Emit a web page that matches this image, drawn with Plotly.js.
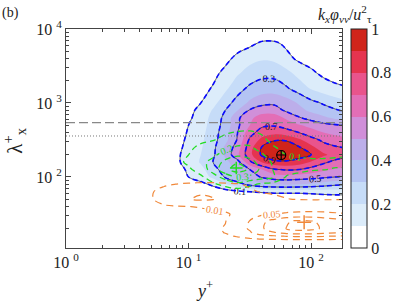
<!DOCTYPE html>
<html><head><meta charset="utf-8">
<script src="https://cdn.plot.ly/plotly-3.0.1.min.js"></script>
<style>html,body{margin:0;padding:0;background:#fff;}#chart{width:399px;height:301px;}</style>
</head><body><div id="chart"></div>
<script>
// ---- grid of the main spectrum (log10 y+ columns, log10 lambda_x+ rows) ----
const mainLogYplus = [0.8,0.9,1.0,1.1,1.2,1.3,1.4,1.5,1.6,1.7,1.8,1.9,2.0,2.1,2.2,2.3];
const mainLogLambda = [1.6,1.7,1.8,1.9,2.0,2.1,2.2,2.3,2.4,2.5,2.6,2.7,2.8,2.9,3.0,3.2,3.4,3.6,3.8,4.0];
const phiVV = [
 [0,0,0,0,0,0,0,0,0,0,0,0,0,0,0,0],
 [0,0,0,0,0,0.01,0.01,0.02,0.02,0.02,0.02,0.02,0.02,0.03,0.03,0.03],
 [0,0,0.01,0.02,0.04,0.06,0.08,0.10,0.11,0.12,0.12,0.12,0.13,0.14,0.15,0.15],
 [0,0.01,0.03,0.07,0.12,0.19,0.26,0.33,0.38,0.40,0.41,0.40,0.38,0.35,0.32,0.31],
 [0.01,0.03,0.10,0.15,0.22,0.31,0.38,0.45,0.51,0.55,0.56,0.55,0.54,0.52,0.50,0.49],
 [0.01,0.05,0.12,0.17,0.26,0.35,0.43,0.50,0.60,0.69,0.71,0.70,0.66,0.62,0.59,0.57],
 [0.02,0.08,0.14,0.21,0.30,0.37,0.46,0.68,0.81,0.87,0.88,0.85,0.79,0.72,0.67,0.65],
 [0.02,0.08,0.14,0.20,0.28,0.42,0.58,0.77,0.92,0.99,0.99,0.95,0.90,0.82,0.76,0.73],
 [0.01,0.07,0.13,0.19,0.27,0.42,0.55,0.76,0.91,0.97,0.96,0.91,0.83,0.74,0.71,0.69],
 [0.01,0.06,0.12,0.18,0.26,0.37,0.51,0.72,0.83,0.89,0.89,0.82,0.74,0.68,0.65,0.63],
 [0.01,0.05,0.11,0.17,0.25,0.36,0.50,0.66,0.75,0.77,0.74,0.70,0.64,0.60,0.57,0.55],
 [0.01,0.05,0.10,0.16,0.24,0.34,0.48,0.60,0.68,0.69,0.66,0.61,0.57,0.53,0.51,0.49],
 [0.01,0.04,0.08,0.15,0.23,0.33,0.48,0.58,0.64,0.65,0.58,0.51,0.46,0.42,0.38,0.35],
 [0.01,0.03,0.07,0.13,0.21,0.30,0.40,0.51,0.56,0.55,0.48,0.43,0.38,0.34,0.31,0.28],
 [0.01,0.02,0.05,0.10,0.17,0.26,0.34,0.42,0.47,0.48,0.45,0.39,0.33,0.29,0.25,0.22],
 [0,0.01,0.03,0.06,0.11,0.18,0.26,0.32,0.35,0.35,0.31,0.25,0.19,0.15,0.12,0.105],
 [0,0,0.02,0.04,0.07,0.13,0.19,0.24,0.27,0.27,0.23,0.17,0.12,0.08,0.06,0.05],
 [0,0,0.01,0.02,0.04,0.07,0.13,0.17,0.19,0.18,0.13,0.08,0.06,0.04,0.03,0.02],
 [0,0,0,0.01,0.02,0.03,0.05,0.08,0.12,0.12,0.08,0.05,0.03,0.02,0.01,0.01],
 [0,0,0,0,0,0,0,0,0,0,0,0,0,0,0,0]
];

// ---- green field ----
const greenLogYplus = [0.8,0.9,1.0,1.1,1.2,1.3,1.4,1.5,1.6,1.7,1.8,1.9,2.0,2.1,2.2,2.3];
const greenLogLambda = [1.7,1.8,1.9,2.0,2.1,2.2,2.3,2.4,2.5,2.6,2.7,2.8];
const greenField = [
 [0,0,0,0,0,0,0,0,0,0,0,0,0,0,0,0],
 [0,0,0,0.005,0.015,0.03,0.04,0.035,0.025,0.015,0.01,0.005,0,0,0,0],
 [0,0,0.01,0.03,0.08,0.13,0.17,0.12,0.08,0.06,0.04,0.03,0.02,0.02,0.02,0.02],
 [0,0.01,0.04,0.08,0.16,0.24,0.30,0.28,0.24,0.20,0.09,0.06,0.05,0.05,0.05,0.05],
 [0.01,0.04,0.08,0.15,0.24,0.37,0.45,0.38,0.27,0.19,0.15,0.13,0.11,0.102,0.095,0.095],
 [0.03,0.07,0.12,0.17,0.23,0.33,0.39,0.34,0.25,0.18,0.14,0.12,0.115,0.115,0.115,0.115],
 [0.02,0.06,0.10,0.14,0.18,0.24,0.28,0.26,0.21,0.14,0.098,0.09,0.085,0.085,0.09,0.095],
 [0.01,0.04,0.08,0.12,0.15,0.18,0.21,0.21,0.16,0.105,0.07,0.05,0.03,0.02,0.01,0.005],
 [0,0.02,0.05,0.08,0.095,0.13,0.16,0.17,0.12,0.07,0.05,0.03,0.02,0.01,0.005,0],
 [0,0.005,0.02,0.04,0.06,0.09,0.11,0.115,0.09,0.06,0.04,0.02,0.01,0.005,0,0],
 [0,0,0,0.01,0.02,0.03,0.04,0.05,0.06,0.06,0.05,0.04,0.02,0.01,0,0],
 [0,0,0,0,0,0,0,0,0,0,0,0,0,0,0,0]
];

// ---- orange field ----
const orangeLogYplus = [0.6,0.7,0.8,0.9,1.0,1.1,1.2,1.3,1.4,1.5,1.6,1.7,1.8,1.9,2.0,2.1,2.2,2.3];
const orangeLogLambda = [1.0,1.1,1.15,1.2,1.25,1.3,1.4,1.5,1.6,1.7,1.8,1.9,2.0];
const orangeField = [
 [0,0,0,0,0,0,0,0,0,0,0,0,0,0,0,0,0,0],
 [0,0,0,0,0,0,0,0,0,0,0,0,0,0,0,0,0,0],
 [0,0,0,0,0,0,0,0.001,0.002,0.003,0.004,0.005,0.006,0.007,0.007,0.007,0.006,0.006],
 [0,0,0,0,0,0,0.002,0.006,0.012,0.02,0.035,0.044,0.052,0.056,0.056,0.053,0.048,0.045],
 [0,0,0,0,0,0.001,0.004,0.011,0.025,0.045,0.08,0.098,0.12,0.13,0.125,0.115,0.105,0.102],
 [0,0,0,0,0.001,0.002,0.005,0.012,0.03,0.055,0.095,0.125,0.152,0.165,0.16,0.145,0.13,0.12],
 [0,0,0,0,0.001,0.002,0.004,0.009,0.03,0.052,0.09,0.12,0.145,0.16,0.155,0.14,0.125,0.115],
 [0,0,0,0,0.001,0.002,0.004,0.007,0.015,0.03,0.042,0.048,0.055,0.058,0.058,0.056,0.053,0.051],
 [0,0.001,0.006,0.008,0.0095,0.012,0.015,0.018,0.02,0.022,0.024,0.026,0.028,0.03,0.032,0.034,0.035,0.036],
 [0.001,0.008,0.022,0.035,0.048,0.056,0.052,0.04,0.03,0.022,0.017,0.013,0.0105,0.009,0.008,0.008,0.008,0.008],
 [0.002,0.008,0.02,0.03,0.04,0.045,0.042,0.035,0.025,0.012,0.009,0.008,0.007,0.007,0.007,0.007,0.007,0.007],
 [0,0.002,0.006,0.0105,0.012,0.013,0.013,0.012,0.011,0.008,0.006,0.005,0.004,0.004,0.004,0.004,0.004,0.004],
 [0,0,0,0,0,0,0,0,0,0,0,0,0,0,0,0,0,0]
];

// ---- markers and reference lines ----
const peakYplus = [57];      const peakLambda = [198];
const greenPeakYplus = [24.5]; const greenPeakLambda = [132];
const orangePeakYplus = [87.7]; const orangePeakLambda = [24.5];
const lambdaDashed = 542;
const lambdaDotted = 358;
const xRangeLog = [0, 2.252];
const yRangeLog = [1.04, 4];

const bandColors = ['#ffffff','#dcecfa','#c6dcf8','#b4c4f3','#bcaeea','#d08fd9','#e36eb6','#e9548c','#e5344f','#d0241a'];
const cbTicks = [0,0.2,0.4,0.6,0.8,1];

const pow10 = a => a.map(v => Math.pow(10, v));
const serif = 'Liberation Serif';

const fillScale = bandColors.map((c,i)=>[i/(bandColors.length-1), c]);

const traces = [
 { type:'contour', x:pow10(mainLogYplus), y:pow10(mainLogLambda), z:phiVV,
   zmin:0, zmax:1, colorscale:fillScale,
   contours:{start:0.1,end:0.9,size:0.1,coloring:'fill',showlines:false},
   line:{width:0}, hoverinfo:'skip',
   colorbar:{x:1.029, xanchor:'left', xpad:0, ypad:0, y:0.5, yanchor:'middle', len:1, lenmode:'fraction',
     thickness:16, thicknessmode:'pixels', outlinewidth:1, outlinecolor:'#222',
     tickvals:cbTicks, ticktext:cbTicks.map(String), ticks:'', tickfont:{family:serif,size:16,color:'#222'}}
 },
 { type:'contour', x:pow10(mainLogYplus), y:pow10(mainLogLambda), z:phiVV, showscale:false,
   contours:{start:0.1,end:0.9,size:0.2,coloring:'none',showlabels:true,
     labelfont:{family:serif,size:10,color:'#111'}},
   line:{color:'#222',width:0.7}, hoverinfo:'skip'
 },
 { type:'contour', x:pow10(mainLogYplus), y:pow10(mainLogLambda), z:phiVV, showscale:false,
   contours:{start:0.1,end:0.9,size:0.2,coloring:'none'},
   line:{color:'#0a0aff',width:1.6,dash:'5px,3px'}, hoverinfo:'skip'
 },
 { type:'contour', x:pow10(greenLogYplus), y:pow10(greenLogLambda), z:greenField, showscale:false,
   contours:{start:0.1,end:0.4,size:0.1,coloring:'none',showlabels:true,
     labelfont:{family:serif,size:10,color:'#22dd22'}},
   line:{color:'#22dd22',width:1.3,dash:'6px,4px'}, hoverinfo:'skip'
 },
 { type:'contour', x:pow10(orangeLogYplus), y:pow10(orangeLogLambda), z:orangeField, showscale:false,
   contours:{start:0.01,end:0.01,size:1,coloring:'none',showlabels:true,
     labelfont:{family:serif,size:10,color:'#f0883a'}},
   line:{color:'#f0883a',width:1.2,dash:'7px,5px'}, hoverinfo:'skip'
 },
 { type:'contour', x:pow10(orangeLogYplus), y:pow10(orangeLogLambda), z:orangeField, showscale:false,
   contours:{start:0.05,end:0.05,size:1,coloring:'none',showlabels:true,
     labelfont:{family:serif,size:10,color:'#f0883a'}},
   line:{color:'#f0883a',width:1.2,dash:'7px,5px'}, hoverinfo:'skip'
 },
 { type:'contour', x:pow10(orangeLogYplus), y:pow10(orangeLogLambda), z:orangeField, showscale:false,
   contours:{start:0.1,end:0.15,size:0.05,coloring:'none'},
   line:{color:'#f0883a',width:1.2,dash:'7px,5px'}, hoverinfo:'skip'
 },
 { type:'scatter', mode:'lines', x:pow10(xRangeLog), y:[lambdaDashed,lambdaDashed],
   line:{color:'#888',width:1.3,dash:'9px,4px'}, hoverinfo:'skip' },
 { type:'scatter', mode:'lines', x:pow10(xRangeLog), y:[lambdaDotted,lambdaDotted],
   line:{color:'#777',width:1,dash:'1px,2px'}, hoverinfo:'skip' },
 { type:'scatter', mode:'markers', x:peakYplus, y:peakLambda,
   marker:{symbol:'circle-cross-open',size:9,color:'#000',line:{width:1.2,color:'#000'}}, hoverinfo:'skip' },
 { type:'scatter', mode:'markers', x:greenPeakYplus, y:greenPeakLambda,
   marker:{symbol:'cross-thin-open',size:9,color:'#22dd22',line:{width:1.5,color:'#22dd22'}}, hoverinfo:'skip' },
 { type:'scatter', mode:'markers', x:orangePeakYplus, y:orangePeakLambda,
   marker:{symbol:'cross-thin-open',size:10,color:'#f0883a',line:{width:1.5,color:'#f0883a'}}, hoverinfo:'skip' }
];

const axisCommon = {
  type:'log', ticks:'inside', ticklen:5, tickcolor:'#444', tickwidth:1,
  showline:true, linecolor:'#444', linewidth:1, mirror:'allticks',
  showgrid:false, zeroline:false,
  tickfont:{family:serif,size:16,color:'#222'},
  minor:{ticks:'inside', ticklen:3, tickcolor:'#444', dtick:'D1', showgrid:false}
};

const layout = {
  width:399, height:301,
  margin:{l:66, r:56, t:29, b:53},
  paper_bgcolor:'#fff', plot_bgcolor:'#fff',
  showlegend:false,
  xaxis:Object.assign({}, axisCommon, {range:xRangeLog, tickmode:'array', tickvals:[1,10,100],
     ticktext:['10 <sup>0</sup>','10 <sup>1</sup>','10 <sup>2</sup>']}),
  yaxis:Object.assign({}, axisCommon, {range:yRangeLog, tickmode:'array', tickvals:[100,1000,10000],
     ticktext:['10 <sup>2</sup>','10 <sup>3</sup>','10 <sup>4</sup>']}),
  annotations:[
    {xref:'paper', yref:'paper', x:-0.238, y:1.075, xanchor:'left', yanchor:'middle', showarrow:false,
     text:'(b)', font:{family:serif,size:14,color:'#222'}},
    {xref:'paper', yref:'paper', x:1.01, y:1.068, xanchor:'center', yanchor:'middle', showarrow:false,
     text:'<i>k<sub>x</sub>φ<sub>vv</sub></i>/<i>u</i><sup>2</sup><sub>τ</sub>', font:{family:serif,size:16,color:'#222'}},
    {xref:'paper', yref:'paper', x:-0.185, y:0.49, xanchor:'center', yanchor:'middle', showarrow:false, textangle:-90,
     text:'λ<sup>+</sup><sub>x</sub>', font:{family:serif,size:21,color:'#222'}},
    {xref:'paper', yref:'paper', x:0.5, y:-0.19, xanchor:'center', yanchor:'middle', showarrow:false,
     text:'<i>y</i><sup>+</sup>', font:{family:serif,size:18,color:'#222'}}
  ]
};

Plotly.newPlot('chart', traces, layout, {displayModeBar:false, staticPlot:true});
</script>
</body></html>
